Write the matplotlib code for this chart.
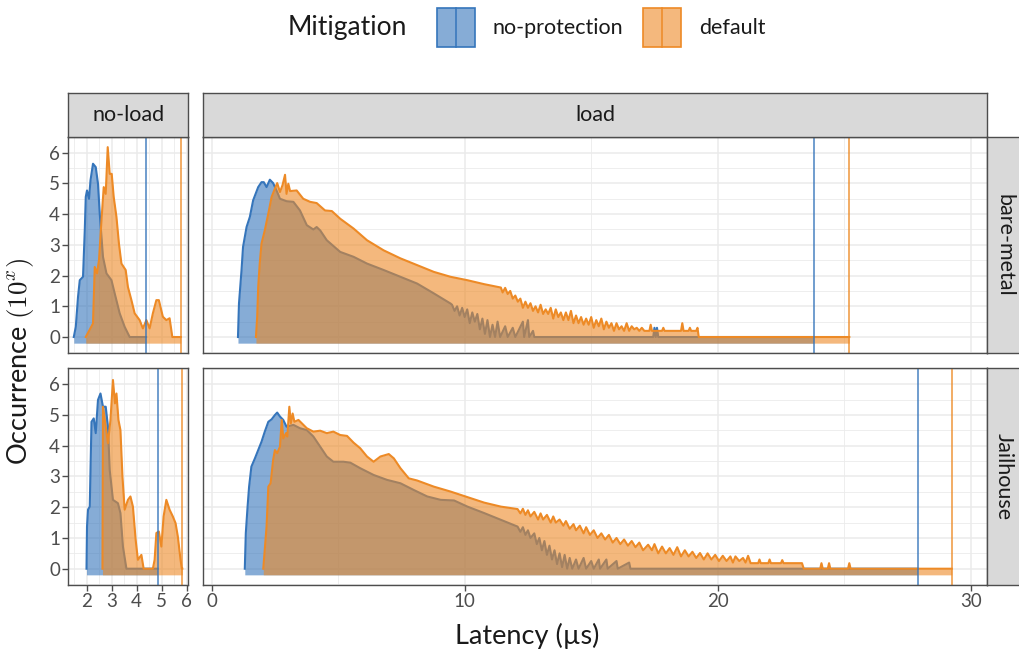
import matplotlib
matplotlib.use("Agg")
import matplotlib.pyplot as plt
from matplotlib.patches import Rectangle
from matplotlib.lines import Line2D
from matplotlib.ticker import MultipleLocator

plt.rcParams['font.family'] = ['Lato', 'DejaVu Sans']
plt.rcParams['mathtext.fontset'] = 'cm'

# ---- data: log10(occurrence) per latency (us) ----
mitigations = ["no-protection", "default"]
loads = ["no-load", "load"]
systems = ["bare-metal", "Jailhouse"]

# bare-metal / no-load
bm_nl_np_x = [1.48, 1.56, 1.65, 1.72, 1.85, 1.92, 1.96, 2.01, 2.09, 2.15, 2.25, 2.36, 2.45, 2.52, 2.65,
              2.79, 2.99, 3.12, 3.32, 3.52, 3.72, 4.38]
bm_nl_np_y = [0, 0.33, 1.31, 1.85, 1.96, 3.47, 4.56, 4.77, 4.50, 5.10, 5.64, 5.53, 4.99, 4.02, 2.61,
              2.07, 1.85, 1.42, 0.77, 0.33, 0, 0]
bm_nl_df_x = [1.96, 2.25, 2.32, 2.41, 2.49, 2.59, 2.68, 2.76, 2.84, 2.92, 3.00, 3.08, 3.19, 3.29, 3.39,
              3.56, 3.65, 3.79, 3.92, 4.12, 4.25, 4.39, 4.52, 4.65, 4.79, 4.89, 5.05, 5.19, 5.32, 5.43, 5.77]
bm_nl_df_y = [0, 0.44, 2.28, 2.07, 2.50, 3.80, 4.88, 4.66, 6.18, 5.31, 5.31, 4.56, 3.91, 3.04, 2.39,
              2.18, 1.63, 1.20, 0.77, 0.55, 0.28, 0.55, 0.28, 0.77, 1.20, 1.20, 0.66, 0.55, 0.61, 0, 0]

# Jailhouse / no-load
jh_nl_np_x = [1.99, 2.01, 2.05, 2.12, 2.19, 2.28, 2.36, 2.45, 2.55, 2.65, 2.76, 2.85, 2.92, 3.05, 3.25,
              3.35, 3.45, 3.59, 4.84]
jh_nl_np_y = [0, 1.37, 1.92, 2.02, 4.78, 4.89, 4.41, 5.49, 5.70, 5.27, 5.27, 4.62, 3.21, 2.24, 2.13,
              1.81, 0.72, 0, 0]
jh_nl_df_x = [2.63, 2.65, 2.76, 2.85, 2.95, 3.05, 3.13, 3.19, 3.27, 3.35, 3.43, 3.52, 3.65, 3.75, 3.85,
              3.96, 4.05, 4.19, 4.28, 4.65, 4.72, 4.79, 4.89, 4.99, 5.08, 5.19, 5.32, 5.45, 5.56, 5.65,
              5.76, 5.81, 5.83]
jh_nl_df_y = [0, 5.27, 4.62, 4.08, 4.84, 6.14, 5.38, 5.70, 4.84, 4.51, 3.00, 1.92, 2.24, 2.35, 2.02,
              0.94, 0.29, 0.45, 0, 0, 0.29, 1.16, 1.21, 0.72, 1.70, 2.24, 1.92, 1.70, 1.48, 1.05,
              0.29, 0, 0]

# bare-metal / load
bm_ld_np_x = [1.04, 1.08, 1.18, 1.24, 1.38, 1.51, 1.64, 1.84, 1.97, 2.06, 2.17, 2.30, 2.43, 2.59, 2.70,
              2.96, 3.23, 3.49, 3.76, 4.02, 4.15, 4.29, 4.55, 5.08, 5.61, 6.14, 6.80, 7.46, 8.12, 8.78,
              9.44, 9.5, 9.6, 9.7, 9.8, 9.9, 10.0, 10.1, 10.2, 10.3, 10.4, 10.5, 10.6, 10.7, 10.8,
              10.9, 11.0, 11.1, 11.2, 11.3, 11.4, 11.6, 11.7, 11.9, 12.0, 12.3, 12.35, 12.5, 12.55,
              12.7, 12.75, 17.45, 17.5, 17.55, 17.6, 17.65, 23.8]
bm_ld_np_y = [0, 1.09, 2.17, 2.93, 3.58, 3.91, 4.45, 4.88, 5.04, 5.04, 4.88, 5.12, 5.01, 4.72, 4.50,
              4.42, 4.40, 4.12, 3.64, 3.50, 3.58, 3.47, 3.15, 2.77, 2.61, 2.39, 2.18, 1.96, 1.74, 1.42,
              1.09, 1.05, 0.85, 1.0, 0.7, 0.95, 0.65, 0.9, 0.45, 0.8, 0.5, 0.75, 0.25, 0.6, 0.1,
              0.55, 0, 0.4, 0, 0.5, 0, 0.35, 0, 0.3, 0, 0.5, 0, 0.55, 0,
              0.2, 0, 0, 0.3, 0, 0.3, 0, 0]
bm_ld_df_x = [1.75, 1.80, 1.84, 1.90, 1.97, 2.10, 2.24, 2.37, 2.50, 2.59, 2.70, 2.80, 2.90, 2.96, 3.03,
              3.10, 3.36, 3.62, 3.89, 4.15, 4.48, 4.75, 5.08, 5.61, 6.14, 6.80, 7.46, 8.12, 8.78, 9.44,
              10.1, 10.77, 11.43, 11.5, 11.6, 11.7, 11.8, 11.9, 12.0, 12.1, 12.2, 12.3, 12.4, 12.5,
              12.6, 12.7, 12.8, 12.9, 13.0, 13.1, 13.2, 13.3, 13.4, 13.5, 13.6, 13.7, 13.8, 13.9,
              14.0, 14.1, 14.2, 14.3, 14.4, 14.5, 14.6, 14.7, 14.8, 14.9, 15.0, 15.1, 15.2, 15.3,
              15.4, 15.5, 15.6, 15.7, 15.8, 15.9, 16.0, 16.1, 16.2, 16.3, 16.4, 16.5, 16.6, 16.7,
              16.8, 16.9, 17.0, 17.1, 17.3, 17.35, 17.4, 17.8, 17.85, 17.9, 18.55, 18.6, 18.65,
              18.85, 18.9, 18.95, 19.15, 19.2, 19.25, 25.2]
bm_ld_df_y = [0, 0.66, 1.63, 2.39, 3.04, 3.47, 4.02, 4.56, 4.83, 5.01, 4.72, 4.94, 5.28, 4.66, 4.99,
              4.75, 4.77, 4.50, 4.40, 4.36, 4.12, 4.10, 3.85, 3.53, 3.15, 2.82, 2.56, 2.34, 2.12, 1.96,
              1.85, 1.72, 1.61, 1.45, 1.6, 1.4, 1.5, 1.25, 1.35, 1.15, 1.25, 0.95, 1.15, 0.95,
              1.1, 0.85, 1.0, 0.8, 1.05, 0.75, 0.9, 0.75, 0.95, 0.6, 0.9, 0.65, 0.8, 0.55,
              0.8, 0.55, 0.85, 0.45, 0.7, 0.45, 0.65, 0.4, 0.6, 0.4, 0.65, 0.3, 0.55, 0.35,
              0.6, 0.25, 0.5, 0.3, 0.45, 0.2, 0.45, 0.25, 0.35, 0.2, 0.45, 0.2, 0.35, 0.25,
              0.3, 0.2, 0.3, 0.2, 0.2, 0.4, 0.2, 0.2, 0.3, 0.2, 0.2, 0.45, 0.2,
              0.2, 0.3, 0.2, 0.2, 0.3, 0, 0]

# Jailhouse / load
jh_ld_np_x = [1.31, 1.35, 1.42, 1.48, 1.57, 1.71, 1.84, 1.97, 2.10, 2.24, 2.37, 2.50, 2.59, 2.70, 2.83,
              2.96, 3.23, 3.49, 3.76, 4.02, 4.29, 4.55, 4.81, 5.21, 5.48, 5.87, 6.40, 6.93, 7.46, 7.99,
              8.52, 9.05, 9.58, 10.11, 10.77, 11.43, 12.09, 12.2, 12.3, 12.4, 12.5, 12.6, 12.75,
              12.85, 12.95, 13.05, 13.15, 13.25, 13.35, 13.45, 13.55, 13.65, 13.75, 13.85, 13.95,
              14.05, 14.15, 14.25, 14.4, 14.5, 14.7, 14.8, 15.0, 15.1, 15.3, 15.35, 15.6, 15.65,
              16.0, 16.05, 16.5, 16.55, 27.9]
jh_ld_np_y = [0, 1.16, 2.02, 2.67, 3.32, 3.59, 3.86, 4.13, 4.46, 4.78, 4.86, 5.00, 5.08, 4.95, 4.84,
              4.62, 4.68, 4.57, 4.51, 4.30, 3.97, 3.65, 3.48, 3.48, 3.45, 3.27, 3.05, 2.89, 2.78, 2.56,
              2.35, 2.24, 2.22, 2.02, 1.81, 1.59, 1.37, 1.2, 1.35, 1.1, 1.25, 1.0, 1.15,
              0.8, 1.0, 0.6, 0.9, 0.45, 0.75, 0.3, 0.6, 0.15, 0.5, 0.05, 0.45,
              0, 0.35, 0, 0.3, 0, 0.35, 0, 0.25, 0, 0.3, 0, 0.3, 0,
              0.25, 0, 0.2, 0, 0]
jh_ld_df_x = [2.04, 2.17, 2.24, 2.33, 2.43, 2.50, 2.59, 2.70, 2.77, 2.83, 2.94, 2.99, 3.07, 3.13, 3.20,
              3.27, 3.43, 3.76, 4.02, 4.29, 4.55, 4.81, 5.08, 5.35, 5.61, 5.87, 6.14, 6.40, 6.67, 7.00,
              7.20, 7.46, 7.79, 8.12, 8.78, 9.44, 10.11, 10.77, 11.43, 12.09, 12.2, 12.3, 12.4, 12.5,
              12.6, 12.75, 12.9, 13.0, 13.1, 13.25, 13.4, 13.5, 13.6, 13.75, 13.9, 14.0, 14.15, 14.3,
              14.4, 14.55, 14.7, 14.8, 14.95, 15.1, 15.25, 15.4, 15.55, 15.7, 15.85, 16.0, 16.15,
              16.3, 16.45, 16.6, 16.75, 16.9, 17.05, 17.25, 17.4, 17.5, 17.65, 17.8, 17.95, 18.1,
              18.25, 18.4, 18.55, 18.7, 18.85, 19.0, 19.15, 19.3, 19.45, 19.6, 19.75, 19.9, 20.05,
              20.2, 20.35, 20.5, 20.6, 20.7, 20.85, 21.0, 21.1, 21.2, 21.3, 21.6, 21.65, 21.7, 22.0,
              22.05, 22.1, 22.5, 22.55, 22.6, 23.33, 23.4, 24.05, 24.1, 24.15, 24.35, 24.4, 24.45,
              25.15, 25.2, 25.25, 29.25]
jh_ld_df_y = [0, 1.37, 2.67, 2.78, 3.54, 3.86, 3.76, 3.97, 4.84, 4.24, 4.41, 4.30, 5.27, 4.73, 5.05,
              4.78, 4.84, 4.57, 4.46, 4.49, 4.41, 4.46, 4.35, 4.32, 4.10, 3.92, 3.65, 3.48, 3.65, 3.73,
              3.59, 3.27, 2.94, 2.87, 2.67, 2.51, 2.33, 2.15, 2.02, 1.94, 1.8, 1.95, 1.75, 1.9,
              1.7, 1.85, 1.6, 1.8, 1.6, 1.75, 1.5, 1.7, 1.5, 1.6, 1.4, 1.55, 1.3, 1.45,
              1.25, 1.4, 1.15, 1.35, 1.1, 1.25, 1.0, 1.15, 0.95, 1.1, 0.85, 1.0, 0.8,
              0.95, 0.75, 0.9, 0.7, 0.85, 0.6, 0.78, 0.6, 0.8, 0.5, 0.72, 0.5, 0.67,
              0.45, 0.7, 0.4, 0.6, 0.4, 0.55, 0.35, 0.51, 0.3, 0.5, 0.3, 0.45, 0.25,
              0.42, 0.25, 0.4, 0.2, 0.4, 0.25, 0.35, 0.2, 0.42, 0.18, 0.18, 0.3, 0.18, 0.18,
              0.3, 0.18, 0.18, 0.28, 0.18, 0.18, 0, 0, 0.18, 0, 0, 0.18, 0,
              0, 0.18, 0, 0]

# maximum latency markers -> (no-protection, default)
max_bm_nl = [4.38, 5.77]
max_bm_ld = [23.8, 25.2]
max_jh_nl = [4.84, 5.83]
max_jh_ld = [27.9, 29.25]

# ---- style ----
W, H = 1019, 655
BLUE = '#3575BB'
ORANGE = '#ED8A26'
GRID = '#ebebeb'
BORDER = '#4d4d4d'
STRIP = '#d9d9d9'
TICKC = '#4d4d4d'
TXT = '#1a1a1a'


def rect(l, t, r, b):
    return [l / W, 1 - b / H, (r - l) / W, (b - t) / H]


def draw_series(ax, x, y, color, z):
    # fill first, then its outline, so the next series' fill covers both
    ax.fill_between(x, -0.2, y, color=color, alpha=0.6, lw=0, zorder=z)
    ax.plot(x, y, color=color, lw=1.5, zorder=z + 0.1)


fig = plt.figure(figsize=(W / 100, H / 100), dpi=100)

cols = [(68.3, 188.3), (203.3, 986.7)]
rows = [(136.7, 353.3), (368.3, 585.0)]
xlims = [(1.26, 6.07), (-0.33, 30.63)]
series = [
    [(bm_nl_np_x, bm_nl_np_y, bm_nl_df_x, bm_nl_df_y, max_bm_nl),
     (bm_ld_np_x, bm_ld_np_y, bm_ld_df_x, bm_ld_df_y, max_bm_ld)],
    [(jh_nl_np_x, jh_nl_np_y, jh_nl_df_x, jh_nl_df_y, max_jh_nl),
     (jh_ld_np_x, jh_ld_np_y, jh_ld_df_x, jh_ld_df_y, max_jh_ld)],
]

for r, (top, bot) in enumerate(rows):
    for c, (left, right) in enumerate(cols):
        ax = fig.add_axes(rect(left, top, right, bot))
        npx, npy, dfx, dfy, mx = series[r][c]
        draw_series(ax, npx, npy, BLUE, 1.0)
        draw_series(ax, dfx, dfy, ORANGE, 1.5)
        ax.axvline(mx[0], color=BLUE, lw=1.1, alpha=0.9, zorder=3)
        ax.axvline(mx[1], color=ORANGE, lw=1.1, alpha=0.9, zorder=3)
        ax.set_xlim(*xlims[c])
        ax.set_ylim(-0.53, 6.52)
        if c == 0:
            ax.xaxis.set_major_locator(MultipleLocator(1))
            ax.xaxis.set_minor_locator(MultipleLocator(0.5))
        else:
            ax.xaxis.set_major_locator(MultipleLocator(10))
            ax.xaxis.set_minor_locator(MultipleLocator(5))
        ax.yaxis.set_major_locator(MultipleLocator(1))
        ax.yaxis.set_minor_locator(MultipleLocator(0.5))
        ax.set_axisbelow(True)
        ax.grid(which='major', color=GRID, lw=1.1)
        ax.grid(which='minor', color=GRID, lw=0.6)
        for s in ax.spines.values():
            s.set_color(BORDER)
            s.set_linewidth(1.0)
            s.set_zorder(4)
        ax.tick_params(which='minor', length=0)
        ax.tick_params(which='major', length=4, width=1, color=BORDER, labelcolor=TICKC,
                       labelsize=13.5, pad=2)
        if c != 0:
            ax.tick_params(axis='y', left=False, labelleft=False)
        if r != 1:
            ax.tick_params(axis='x', bottom=False, labelbottom=False)

# top strips
for c, (left, right) in enumerate(cols):
    sax = fig.add_axes(rect(left, 92.7, right, 136.7))
    sax.set_facecolor(STRIP)
    sax.set_xticks([])
    sax.set_yticks([])
    for s in sax.spines.values():
        s.set_color(BORDER)
        s.set_linewidth(1.0)
    sax.text(0.5, 0.5, loads[c], ha='center', va='center', fontsize=15.5,
             color=TXT, transform=sax.transAxes)

# right strips
for r, (top, bot) in enumerate(rows):
    sax = fig.add_axes(rect(986.7, top, 1030, bot))
    sax.set_facecolor(STRIP)
    sax.set_xticks([])
    sax.set_yticks([])
    for s in sax.spines.values():
        s.set_color(BORDER)
        s.set_linewidth(1.0)
    fig.text(1004 / W, 1 - (top + bot) / 2 / H, systems[r], rotation=-90, ha='center',
             va='center', fontsize=15.5, color=TXT)

# axis titles
fig.text(527 / W, 1 - 636 / H, 'Latency (µs)', ha='center', va='center', fontsize=19.5,
         color=TXT)
fig.text(21 / W, 1 - 361 / H, r'Occurrence $(10^x)$', ha='center', va='center',
         rotation=90, fontsize=19.5, color=TXT)

# legend
fig.text(288 / W, 1 - 28 / H, 'Mitigation', ha='left', va='center', fontsize=19,
         color=TXT)
keys = [(436.7, BLUE, mitigations[0]), (642.7, ORANGE, mitigations[1])]
for kx, col, lab in keys:
    fig.patches.append(Rectangle((kx / W, 1 - 46.7 / H), 38.3 / W, 38.4 / H,
                                 transform=fig.transFigure, facecolor=col, alpha=0.6,
                                 edgecolor='none'))
    fig.patches.append(Rectangle((kx / W, 1 - 46.7 / H), 38.3 / W, 38.4 / H,
                                 transform=fig.transFigure, facecolor='none',
                                 edgecolor=col, lw=1.2))
    fig.lines.append(Line2D([(kx + 19.2) / W] * 2, [1 - 46.7 / H, 1 - 8.3 / H],
                            transform=fig.transFigure, color=col, lw=1.1))
    fig.text((kx + 56) / W, 1 - 28 / H, lab, ha='left', va='center', fontsize=15.5,
             color=TXT)

fig.savefig('out.png', dpi=100)
